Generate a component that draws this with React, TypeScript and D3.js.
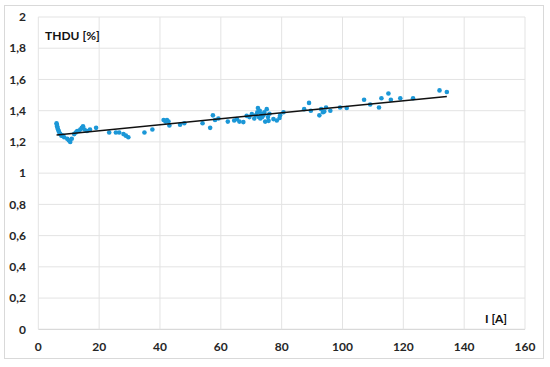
import React from "react";
import * as d3 from "d3";

const xTicks = [0, 20, 40, 60, 80, 100, 120, 140, 160];
const yTicks = [0, 0.2, 0.4, 0.6, 0.8, 1, 1.2, 1.4, 1.6, 1.8, 2];

const currentA = [
  6.0, 6.1, 6.2, 6.3, 6.5, 6.7, 6.9, 7.2, 7.6, 8.0, 8.5,
  9.5, 10.0, 10.5, 11.0,
  11.8, 12.3, 12.8, 13.3, 13.8, 14.3, 14.7, 15.2, 16.0,
  17.0, 19.0,
  23.3, 25.5, 26.6, 28.0, 28.8, 29.6,
  34.9, 37.5,
  41.2, 41.8, 42.3, 42.8, 43.1,
  46.6, 48.0,
  54.0, 56.5, 57.4, 58.1, 59.2,
  62.3, 64.4, 65.3, 66.1, 67.4,
  68.5, 69.4, 70.2,
  71.0, 71.5, 72.0, 72.2, 72.5, 72.8, 73.0, 73.3, 73.6, 74.0, 74.3, 74.6, 75.1, 75.5, 75.7, 76.0,
  77.3, 78.4, 79.3, 79.5, 80.6,
  87.4, 89.0, 89.6, 92.4, 93.0, 93.6, 94.0, 94.6, 96.0, 99.2, 101.4,
  107.1, 109.1, 112.0, 112.8, 115.1, 115.9, 119.0, 123.2, 131.9, 134.3,
];
const thdu = [
  1.32, 1.31, 1.30, 1.29, 1.28, 1.27, 1.26, 1.25, 1.24, 1.24, 1.23,
  1.22, 1.21, 1.20, 1.22,
  1.25, 1.26, 1.27, 1.27, 1.28, 1.29, 1.30, 1.28, 1.27,
  1.28, 1.29,
  1.26, 1.26, 1.26, 1.25, 1.24, 1.23,
  1.26, 1.28,
  1.34, 1.33, 1.34, 1.33, 1.305,
  1.31, 1.32,
  1.32, 1.29, 1.37, 1.34, 1.35,
  1.33, 1.337, 1.346, 1.33, 1.327,
  1.367, 1.359, 1.378,
  1.35, 1.37, 1.39, 1.417, 1.36, 1.40, 1.35, 1.38, 1.36, 1.37, 1.39, 1.33, 1.41, 1.36, 1.335, 1.38,
  1.346, 1.337, 1.353, 1.37, 1.39,
  1.41, 1.45, 1.40, 1.37, 1.41, 1.39, 1.395, 1.42, 1.40, 1.42, 1.417,
  1.47, 1.44, 1.42, 1.48, 1.51, 1.47, 1.48, 1.48, 1.53, 1.52,
];

const trendX = [6, 134.3];
const trendY = [1.245, 1.491];

const W = 550;
const H = 367;
const plot = { left: 38.3, right: 525, top: 17, bottom: 329.3 };

const fmt = (v: number) => String(v).replace(".", ",");

export default function App() {
  const x = d3.scaleLinear().domain([0, 160]).range([plot.left, plot.right]);
  const y = d3.scaleLinear().domain([0, 2]).range([plot.bottom, plot.top]);
  const line = d3
    .line<number>()
    .x((d) => x(trendX[d]))
    .y((d) => y(trendY[d]));
  const font = "Lato, 'Open Sans', sans-serif";
  return (
    <div style={{ position: "fixed", left: 0, top: 0, background: "#fff" }}>
      <svg width={W} height={H} style={{ display: "block" }}>
        <rect x={0} y={0} width={W} height={H} fill="#fff" />
        <rect x={4.5} y={5.5} width={539} height={353} fill="#fff" stroke="#d9d9d9" strokeWidth={1} />
        {yTicks.map((t) => (
          <line key={"gy" + t} x1={plot.left} x2={plot.right} y1={y(t)} y2={y(t)} stroke={t === 0 ? "#d0d0d0" : "#e3e3e3"} strokeWidth={1} />
        ))}
        {xTicks.map((t) => (
          <line key={"gx" + t} x1={x(t)} x2={x(t)} y1={plot.top} y2={plot.bottom} stroke="#e3e3e3" strokeWidth={1} />
        ))}
        {yTicks.map((t) => (
          <text key={"ty" + t} x={26} y={y(t)} dy="0.35em" textAnchor="end" fontFamily={font} fontWeight="bold" fontSize={12} fill="#262626">
            {fmt(t)}
          </text>
        ))}
        {xTicks.map((t) => (
          <text key={"tx" + t} x={x(t)} y={347} dy="0.35em" textAnchor="middle" fontFamily={font} fontWeight="bold" fontSize={12} fill="#262626">
            {t}
          </text>
        ))}
        {currentA.map((v, i) => (
          <circle key={"p" + i} cx={x(v)} cy={y(thdu[i])} r={2.3} fill="#1b97d7" />
        ))}
        <path d={line([0, 1]) || ""} fill="none" stroke="#111" strokeWidth={1.5} />
        <text x={45} y={36} dy="0.35em" fontFamily={font} fontWeight="bold" fontSize={12} fill="#111">
          THDU [%]
        </text>
        <text x={485} y={319} dy="0.35em" fontFamily={font} fontWeight="bold" fontSize={12} fill="#111">
          I [A]
        </text>
      </svg>
    </div>
  );
}
